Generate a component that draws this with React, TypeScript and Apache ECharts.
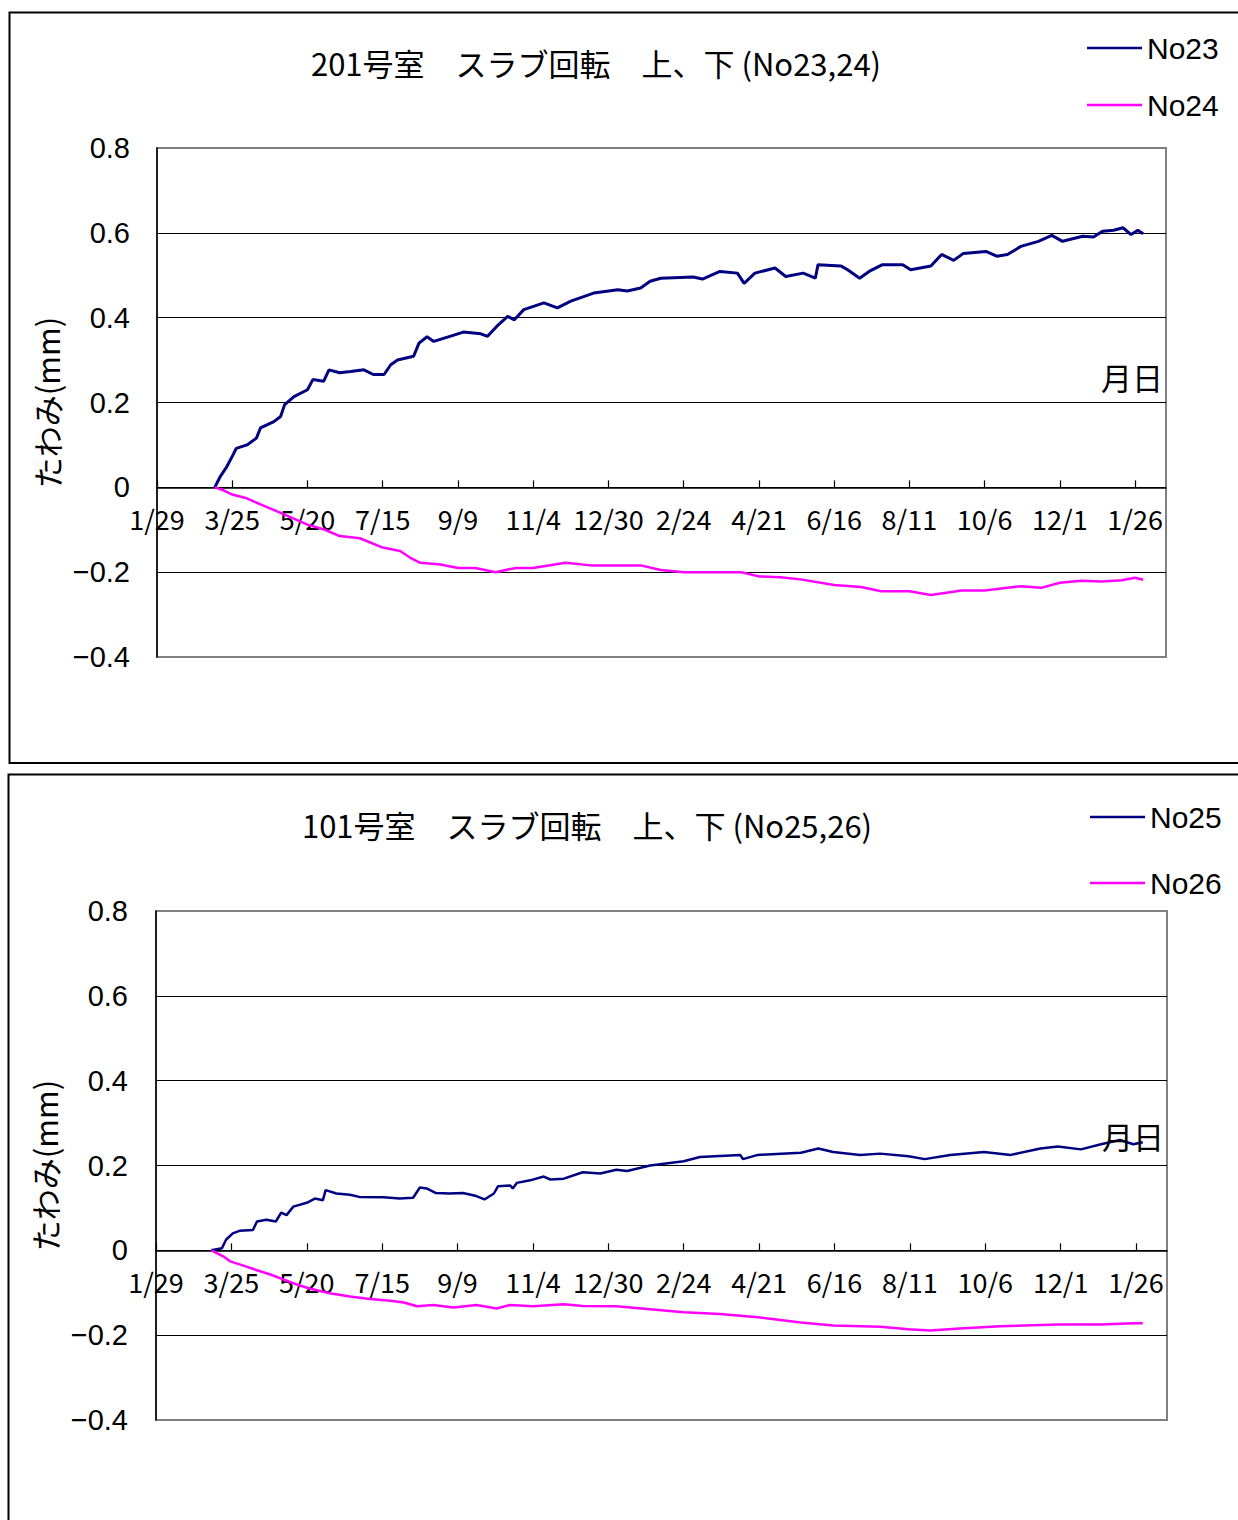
import React, { useEffect, useRef } from "react";
import * as echarts from "echarts";

// Day offsets are counted from 1/29 (leap year start).
const X_MAX_DAY = 751;
const X_STEP = 56;

const Y_MIN = -0.4;
const Y_MAX = 0.8;
const Y_STEP = 0.2;

const TITLE_201 = "201号室　スラブ回転　上、下 (No23,24)";
const TITLE_101 = "101号室　スラブ回転　上、下 (No25,26)";
const Y_NAME = "たわみ(mm)";
const X_NAME = "月日";

// 201号室 No23 (上)
const no23Days = [43, 47, 52, 56, 59, 67, 74, 77, 87, 92, 95, 102, 112, 116, 124, 128, 136, 144, 154, 161, 169, 174, 179, 191, 195, 201, 206, 218, 228, 241, 246, 253, 261, 266, 273, 288, 298, 308, 325, 343, 350, 360, 367, 375, 399, 406, 419, 432, 437, 445, 460, 468, 481, 490, 492, 509, 514, 523, 530, 540, 555, 561, 576, 584, 593, 600, 617, 625, 633, 643, 656, 666, 674, 689, 697, 704, 712, 719, 725, 730, 734];
const no23Vals = [0, 0.025, 0.049, 0.073, 0.092, 0.1, 0.116, 0.14, 0.155, 0.167, 0.195, 0.214, 0.23, 0.254, 0.25, 0.277, 0.27, 0.273, 0.277, 0.266, 0.266, 0.289, 0.3, 0.309, 0.34, 0.355, 0.344, 0.356, 0.366, 0.362, 0.356, 0.38, 0.403, 0.395, 0.419, 0.435, 0.423, 0.439, 0.458, 0.466, 0.463, 0.47, 0.486, 0.493, 0.496, 0.491, 0.509, 0.505, 0.481, 0.505, 0.517, 0.497, 0.505, 0.493, 0.525, 0.522, 0.513, 0.493, 0.509, 0.525, 0.525, 0.513, 0.522, 0.549, 0.535, 0.551, 0.556, 0.545, 0.549, 0.568, 0.58, 0.594, 0.58, 0.592, 0.59, 0.604, 0.606, 0.612, 0.596, 0.606, 0.598];

// 201号室 No24 (下)
const no24Days = [43, 48, 56, 66, 77, 92, 112, 125, 136, 151, 168, 181, 189, 196, 211, 224, 237, 252, 267, 280, 304, 323, 336, 360, 375, 392, 412, 435, 448, 464, 479, 504, 524, 539, 560, 576, 599, 616, 643, 658, 672, 688, 703, 718, 728, 734];
const no24Vals = [0, -0.005, -0.017, -0.025, -0.04, -0.06, -0.088, -0.1, -0.115, -0.12, -0.142, -0.15, -0.167, -0.178, -0.182, -0.19, -0.19, -0.2, -0.19, -0.19, -0.178, -0.184, -0.184, -0.184, -0.195, -0.2, -0.2, -0.2, -0.21, -0.212, -0.217, -0.23, -0.235, -0.245, -0.245, -0.254, -0.243, -0.243, -0.233, -0.237, -0.225, -0.22, -0.222, -0.219, -0.213, -0.218];

// 101号室 No25 (上)
const no25Days = [41, 49, 52, 57, 62, 72, 75, 82, 89, 93, 97, 102, 112, 118, 124, 126, 134, 144, 151, 169, 181, 191, 196, 201, 208, 218, 228, 238, 244, 251, 254, 263, 265, 268, 278, 288, 293, 303, 317, 330, 342, 350, 367, 392, 404, 434, 436, 447, 479, 492, 503, 523, 538, 559, 571, 590, 615, 635, 657, 670, 687, 702, 716, 726, 733];
const no25Vals = [0, 0.005, 0.025, 0.04, 0.046, 0.048, 0.068, 0.072, 0.068, 0.089, 0.083, 0.103, 0.112, 0.122, 0.118, 0.142, 0.134, 0.131, 0.126, 0.125, 0.122, 0.124, 0.148, 0.146, 0.135, 0.134, 0.135, 0.128, 0.12, 0.134, 0.151, 0.153, 0.146, 0.159, 0.165, 0.174, 0.167, 0.169, 0.184, 0.181, 0.19, 0.187, 0.2, 0.21, 0.22, 0.225, 0.215, 0.225, 0.23, 0.24, 0.232, 0.225, 0.228, 0.222, 0.215, 0.225, 0.232, 0.225, 0.24, 0.245, 0.238, 0.25, 0.26, 0.25, 0.255];

// 101号室 No26 (下)
const no26Days = [41, 50, 55, 65, 75, 85, 94, 104, 114, 129, 144, 159, 174, 184, 194, 206, 221, 238, 253, 263, 280, 303, 317, 342, 367, 392, 419, 447, 479, 503, 538, 559, 575, 597, 627, 670, 702, 726, 733];
const no26Vals = [0, -0.014, -0.026, -0.036, -0.047, -0.057, -0.068, -0.08, -0.09, -0.101, -0.109, -0.115, -0.119, -0.123, -0.132, -0.129, -0.135, -0.129, -0.137, -0.129, -0.132, -0.127, -0.131, -0.132, -0.139, -0.146, -0.15, -0.158, -0.17, -0.177, -0.18, -0.186, -0.189, -0.184, -0.179, -0.175, -0.175, -0.172, -0.172];

const NAVY = "#000080";
const MAGENTA = "#FF00FF";
const JP_FONT = "'Noto Sans CJK JP', 'Noto Sans', sans-serif";
const NUM_FONT = "'Liberation Sans', Arial, sans-serif";

const GRID_H = 509;
// The date axis sits on the zero line of the value axis.
const ZERO_OFFSET = -(GRID_H * (0 - Y_MIN)) / (Y_MAX - Y_MIN);

const pairs = (days: number[], vals: number[]) => days.map((d, i) => [d, vals[i]]);

const dayLabel = (v: number) => {
  const d = new Date(2008, 0, 29 + Math.round(v));
  return `${d.getMonth() + 1}/${d.getDate()}`;
};

const yLabel = (v: number) => {
  if (Math.abs(v) < 1e-9) return "0";
  const s = Math.abs(v).toFixed(1);
  return v < 0 ? "\u2212" + s : s;
};

const makeX = (gridIndex: number) => ({
  type: "value",
  gridIndex,
  position: "bottom",
  offset: ZERO_OFFSET,
  min: 0,
  max: X_MAX_DAY,
  interval: X_STEP,
  axisLine: { onZero: false, lineStyle: { color: "#000", width: 1.5 } },
  axisTick: { inside: true, length: 7, lineStyle: { color: "#000", width: 1.2 } },
  axisLabel: {
    formatter: dayLabel,
    fontSize: 27,
    fontFamily: JP_FONT,
    color: "#000",
    margin: 18,
    showMaxLabel: false,
  },
  splitLine: { show: false },
});

const makeY = (gridIndex: number, margin: number) => ({
  type: "value",
  gridIndex,
  min: Y_MIN,
  max: Y_MAX,
  interval: Y_STEP,
  name: Y_NAME,
  nameLocation: "middle",
  nameGap: 86,
  nameTextStyle: { fontSize: 31, fontFamily: JP_FONT, color: "#000" },
  axisLine: { show: true, onZero: false, lineStyle: { color: "#000", width: 1.5 } },
  axisTick: { show: false },
  axisLabel: {
    formatter: yLabel,
    fontSize: 29,
    fontFamily: NUM_FONT,
    color: "#000",
    margin,
  },
  splitLine: {
    show: true,
    showMinLine: false,
    showMaxLine: false,
    lineStyle: { color: "#000", width: 1 },
  },
});

const line = (name: string, days: number[], vals: number[], color: string, idx: number, width: number) => ({
  name,
  type: "line",
  xAxisIndex: idx,
  yAxisIndex: idx,
  data: pairs(days, vals),
  symbol: "none",
  showSymbol: false,
  lineStyle: { color, width },
  itemStyle: { color },
});

export default function App() {
  const ref = useRef<HTMLDivElement>(null);

  useEffect(() => {
    if (!ref.current) return;
    const chart = echarts.init(ref.current, undefined, { renderer: "svg" });
    const legendText = { fontSize: 30, fontFamily: NUM_FONT, color: "#000" };
    const titleText = { fontSize: 31, fontWeight: "normal", fontFamily: JP_FONT, color: "#000" };
    chart.setOption({
      animation: false,
      backgroundColor: "#fff",
      title: [
        { text: TITLE_201, left: 591, top: 42, textAlign: "center", textStyle: titleText },
        { text: TITLE_101, left: 582, top: 804, textAlign: "center", textStyle: titleText },
      ],
      legend: [
        {
          data: ["No23", "No24"],
          orient: "vertical",
          left: 1087,
          top: 33,
          padding: 0,
          icon: "rect",
          itemWidth: 55,
          itemHeight: 2.5,
          itemGap: 27,
          textStyle: legendText,
        },
        {
          data: ["No25", "No26"],
          orient: "vertical",
          left: 1090,
          top: 802,
          padding: 0,
          icon: "rect",
          itemWidth: 55,
          itemHeight: 2.5,
          itemGap: 36,
          textStyle: legendText,
        },
      ],
      grid: [
        { left: 157, top: 148, width: 1009, height: GRID_H, show: true, borderColor: "#808080", borderWidth: 2, backgroundColor: "transparent" },
        { left: 156, top: 911, width: 1011, height: GRID_H, show: true, borderColor: "#808080", borderWidth: 2, backgroundColor: "transparent" },
      ],
      xAxis: [makeX(0), makeX(1)],
      yAxis: [makeY(0, 27), makeY(1, 28)],
      series: [
        line("No23", no23Days, no23Vals, NAVY, 0, 3),
        line("No24", no24Days, no24Vals, MAGENTA, 0, 2.5),
        line("No25", no25Days, no25Vals, NAVY, 1, 2.5),
        line("No26", no26Days, no26Vals, MAGENTA, 1, 2.5),
      ],
      graphic: [
        {
          type: "rect",
          shape: { x: 9.5, y: 12.5, width: 1240, height: 750.5 },
          style: { fill: "none", stroke: "#000", lineWidth: 2 },
          silent: true,
        },
        {
          type: "rect",
          shape: { x: 8.5, y: 774.5, width: 1240, height: 760 },
          style: { fill: "none", stroke: "#000", lineWidth: 2 },
          silent: true,
        },
        {
          type: "text",
          x: 1163,
          y: 361,
          style: { text: X_NAME, fontSize: 31, fontFamily: JP_FONT, fill: "#000", textAlign: "right" },
          z: 10,
        },
        {
          type: "text",
          x: 1164,
          y: 1120,
          style: { text: X_NAME, fontSize: 31, fontFamily: JP_FONT, fill: "#000", textAlign: "right" },
          z: 10,
        },
      ],
    });
    return () => chart.dispose();
  }, []);

  return (
    <div
      ref={ref}
      style={{ position: "absolute", left: 0, top: 0, width: 1238, height: 1520 }}
    />
  );
}
